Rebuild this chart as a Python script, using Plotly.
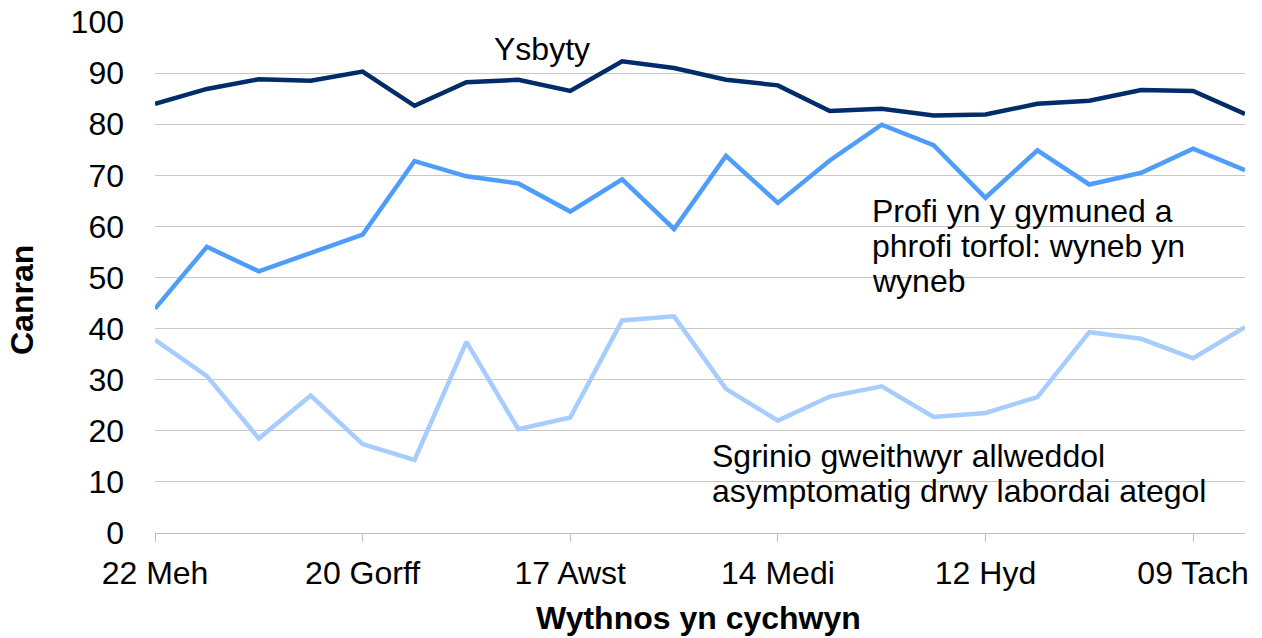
import plotly.graph_objects as go

weeks = ["2020-06-22", "2020-06-29", "2020-07-06", "2020-07-13", "2020-07-20", "2020-07-27",
         "2020-08-03", "2020-08-10", "2020-08-17", "2020-08-24", "2020-08-31", "2020-09-07",
         "2020-09-14", "2020-09-21", "2020-09-28", "2020-10-05", "2020-10-12", "2020-10-19",
         "2020-10-26", "2020-11-02", "2020-11-09", "2020-11-16"]

ysbyty = [84.0, 86.9, 88.8, 88.5, 90.3, 83.6, 88.2, 88.7, 86.5, 92.3, 91.0,
          88.7, 87.6, 82.6, 83.0, 81.7, 81.9, 84.0, 84.6, 86.7, 86.5, 82.0]
profi = [43.9, 56.0, 51.2, 54.9, 58.4, 72.8, 69.8, 68.4, 62.9, 69.2, 59.5,
         73.8, 64.6, 72.9, 79.9, 75.9, 65.6, 74.9, 68.2, 70.5, 75.2, 71.0]
sgrinio = [37.8, 30.7, 18.5, 26.9, 17.4, 14.3, 37.4, 20.3, 22.6, 41.6, 42.4,
           28.2, 22.0, 26.7, 28.7, 22.7, 23.5, 26.6, 39.3, 38.0, 34.2, 40.3]

tick_vals = ["2020-06-22", "2020-07-20", "2020-08-17", "2020-09-14", "2020-10-12", "2020-11-09"]
tick_text = ["22 Meh", "20 Gorff", "17 Awst", "14 Medi", "12 Hyd", "09 Tach"]

colors = ["#002d6a", "#4f9dfb", "#a7cdff"]
names = ["Ysbyty",
         "Profi yn y gymuned a phrofi torfol: wyneb yn wyneb",
         "Sgrinio gweithwyr allweddol asymptomatig drwy labordai ategol"]

label_ysbyty = ["Ysbyty"]
label_profi = ["Profi yn y gymuned a", "phrofi torfol: wyneb yn", "wyneb"]
label_sgrinio = ["Sgrinio gweithwyr allweddol", "asymptomatig drwy labordai ategol"]

FONT = "Liberation Sans, Arial, sans-serif"
FS = 32

fig = go.Figure()
for name, vals, col in zip(names, [ysbyty, profi, sgrinio], colors):
    fig.add_trace(go.Scatter(x=weeks, y=vals, mode="lines", name=name,
                             line=dict(color=col, width=4.5)))

def add_label(text, x, y, anchor="left", angle=0, bold=False):
    fig.add_annotation(text=f"<b>{text}</b>" if bold else text,
                       xref="paper", yref="paper", x=x, y=y,
                       xanchor=anchor, yanchor="middle", align="left",
                       showarrow=False, textangle=angle,
                       font=dict(family=FONT, size=FS, color="#000000"))

add_label(label_ysbyty[0], 0.355, 0.947, anchor="center")
for line, yy in zip(label_profi, [0.630, 0.5616, 0.493]):
    add_label(line, 0.6560, yy)
for line, yy in zip(label_sgrinio, [0.1507, 0.0822]):
    add_label(line, 0.509, yy)

add_label("Canran", -0.122, 0.456, anchor="center", angle=-90, bold=True)
add_label("Wythnos yn cychwyn", 0.499, -0.166, anchor="center", bold=True)

fig.update_layout(
    width=1262, height=638,
    margin=dict(l=155, r=17, t=22, b=105),
    paper_bgcolor="white", plot_bgcolor="white",
    showlegend=False,
    font=dict(family=FONT, size=FS, color="#000000"),
)
fig.update_xaxes(
    type="date", range=[weeks[0], weeks[-1]],
    tickvals=tick_vals, ticktext=tick_text,
    showgrid=False, showline=True, linecolor="#bfbfbf", linewidth=1,
    ticks="outside", ticklen=8, tickcolor="#bfbfbf",
    ticklabelstandoff=4,
    tickfont=dict(family=FONT, size=FS),
    zeroline=False, automargin=False,
)
fig.update_yaxes(
    range=[0, 100], dtick=10, tick0=0,
    showgrid=True, gridcolor="#c8c8c8", gridwidth=1,
    showline=False, zeroline=False,
    ticks="", ticklabelstandoff=30,
    tickfont=dict(family=FONT, size=FS),
    automargin=False,
)

fig.write_html("out.html",
               config={"displayModeBar": False},
               post_script="document.body.style.margin='0';document.body.style.overflow='hidden';")
